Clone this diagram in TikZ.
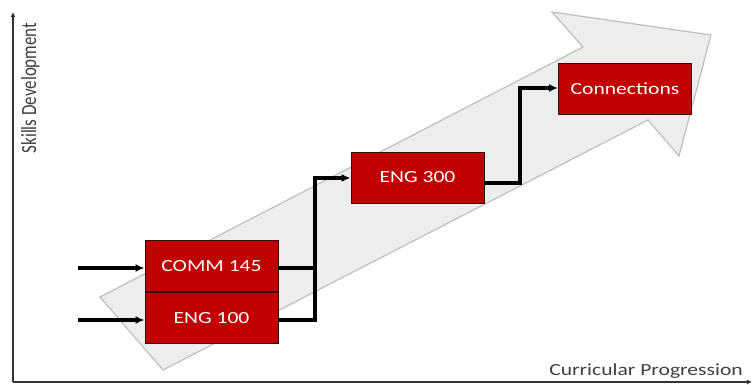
\documentclass[tikz,border=0pt]{standalone}
\usepackage{fontspec}
\setmainfont{Carlito}
\usepackage{tikz}
\usetikzlibrary{arrows.meta, positioning}
\definecolor{course}{HTML}{C00000}
\definecolor{courseborder}{HTML}{3A0A0A}
\definecolor{arrowfill}{HTML}{EDEDED}
\definecolor{arrowborder}{HTML}{BFBFBF}
\definecolor{axiscolor}{HTML}{333333}
\definecolor{labelcolor}{HTML}{3F3F3F}
\newcommand{\widetext}[1]{\scalebox{1.27}[1]{#1}}

\begin{document}
\begin{tikzpicture}[x=1pt, y=-1pt, >={Latex[length=9pt,width=8pt]}]
        \tikzstyle{coursebox} = [rectangle, draw=courseborder, fill=course, text=white, minimum width=133pt, minimum height=51pt, inner sep=0pt, line width=0.9pt, font=\fontsize{17}{20}\selectfont]
        \tikzstyle{link} = [line width=3.2pt, color=black, line join=miter]
        \tikzstyle{axis} = [line width=1.8pt, color=axiscolor, -{Latex[length=5pt,width=5pt]}]
        \tikzstyle{axislabel} = [text=labelcolor, inner sep=0pt, font=\fontsize{17}{20}\selectfont]
        \useasboundingbox (0,0) rectangle (753,385);

        % background progression arrow
        \path [draw=arrowborder, fill=arrowfill, line width=1.2pt, line join=miter]
            (100,297) -- (583,47) -- (552,12) -- (711,35) -- (679,156) -- (648,120) -- (163,370) -- cycle;

        % axes
        \coordinate (origin) at (13,382);
        \coordinate (ytop) at (13,12);
        \coordinate (xend) at (752,382);
        \path [draw, axis] (origin) -- (ytop);
        \path [draw, axis] (origin) -- (xend);
        \node [axislabel, rotate=90, anchor=base] (ylabel) at (36,88) {\scalebox{1}[1.27]{Skills Development}};
        \node [axislabel, anchor=base] (xlabel) at (646,375) {\widetext{Curricular Progression}};

        % courses
        \node [coursebox] (comm) at (211.5,266) {\widetext{COMM 145}};
        \node [coursebox, below=0pt of comm] (eng100) {\widetext{ENG 100}};
        \node [coursebox] (eng300) at (417.5,177.5) {\widetext{ENG 300}};
        \node [coursebox] (connections) at (625,88.5) {\widetext{Connections}};

        % flow
        \coordinate (inA) at (78,268);
        \coordinate (inB) at (78,320);
        \coordinate (bendA) at (315,178);
        \coordinate (bendB) at (520,88);
        \path [draw, ->, link] (inA) -- (inA -| comm.west);
        \path [draw, ->, link] (inB) -- (inB -| eng100.west);
        \path [draw, link] (comm.east |- inA) -| (bendA);
        \path [draw, ->, link] (eng100.east |- inB) -| (bendA) -- (eng300.west |- bendA);
        \path [draw, ->, link] ([yshift=-5.5pt]eng300.east) -| (bendB) -- (connections.west |- bendB);
    \end{tikzpicture}
\end{document}
